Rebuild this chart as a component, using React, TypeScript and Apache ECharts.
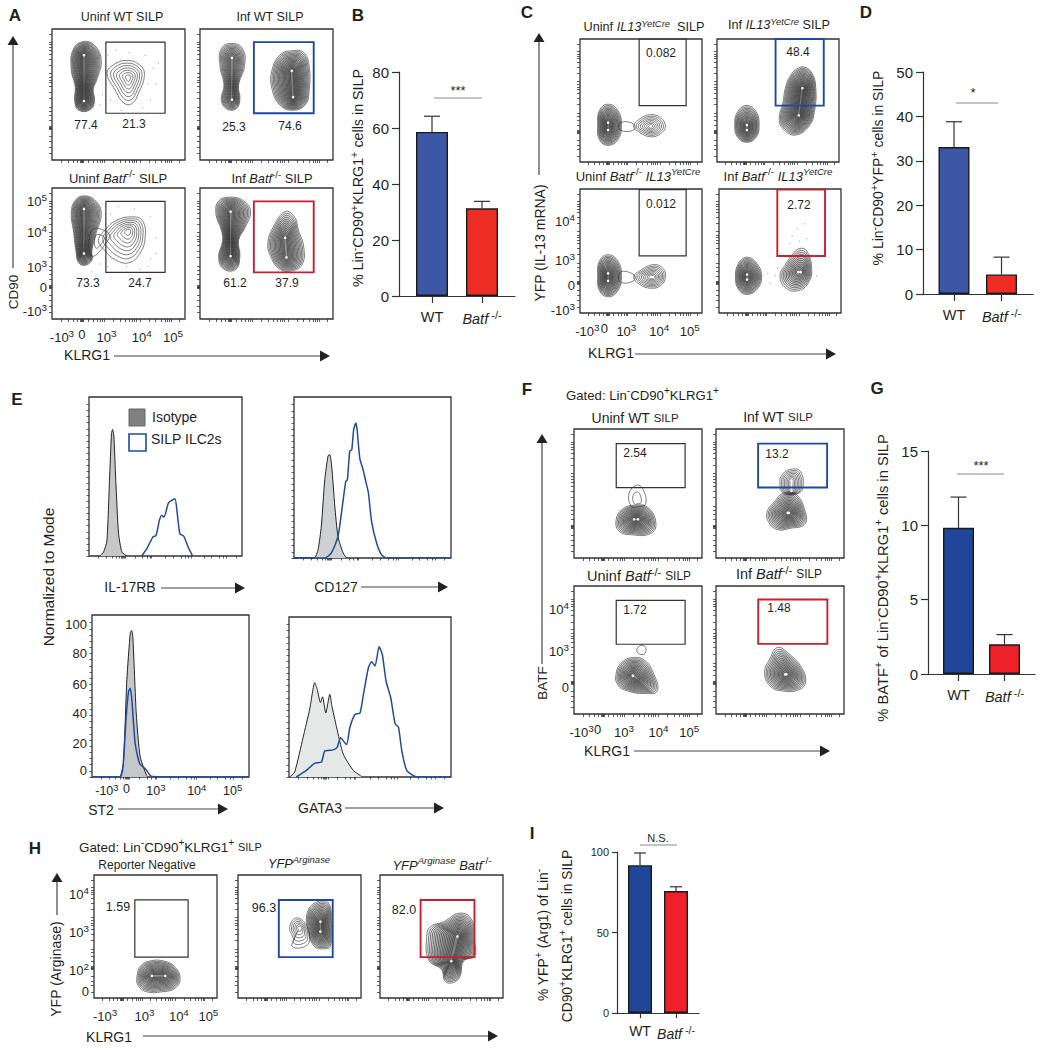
import React, { useEffect, useRef } from "react";
import * as echarts from "echarts";

const FONT = "'Liberation Sans', Arial, sans-serif";
const INK = "#1f1f1f";
const BLUE = "#1f4aa0";
const RED = "#c8202f";

// ---------- bar data ----------
const barCategories = ["WT", "{i|Batf}{s| -/-}"];
const bValues = [58.6, 31.3];
const bErrors = [64.2, 33.8];
const dValues = [33.1, 4.4];
const dErrors = [38.8, 8.3];
const gValues = [9.83, 2.0];
const gErrors = [11.9, 2.65];
const iValues = [91.8, 75.7];
const iErrors = [99.4, 78.4];

// ---------- histogram data (x: % of panel width, y: % of mode) ----------
const e1Iso = [[7,0],[9.5,2.6],[11.7,10],[13.4,50],[14.7,81],[15.4,83.5],[16.2,80],[17.5,50],[19.3,15],[21.5,2.6],[24.7,0]];
const e1Blue = [[34.5,0],[37.8,4.8],[41.7,12.5],[43.8,13.6],[46,23.5],[47.5,26.8],[49,25.7],[51.9,35],[54,36.7],[56.2,37.8],[57.7,28],[59.4,14.7],[62,13],[64.8,5.9],[67.7,0]];
const e2Iso = [[0,0],[12.8,0],[15.3,5.4],[17.4,20.7],[19.6,51],[21.7,66.7],[22.8,67.4],[24,60],[26,33.7],[28,14],[31.3,3.3],[33.4,0]];
const e2Blue = [[0,0],[19.6,0],[23.8,3.3],[28,14],[31.3,37.8],[33,50],[34,51],[35.5,69.6],[36.8,70.7],[38,83.7],[39.4,88],[40.2,83.7],[41.9,65],[44,57.6],[45.7,50],[47.4,42.4],[49.4,23.9],[52.6,9.8],[55.7,2.2],[58.9,0],[100,0]];
const e3Iso = [[18,0],[20,8.7],[22.2,63],[24.4,93.5],[25.2,95],[26,91],[28.2,41],[30.7,13],[35,0.4]];
const e3Blue = [[0,0],[18,0],[19.7,6.5],[21.9,41],[23.3,55.4],[24.4,57.6],[25.4,50],[27.5,21.7],[30.3,8.7],[33.9,5.4],[38.1,0.4],[100,0]];
const e4Iso = [[0.4,0],[3.5,3.3],[8.7,26],[12.8,44.6],[15.9,62],[17.4,57.6],[19.4,48.9],[20.7,52.6],[22.7,42],[25.2,54.3],[26.4,47],[29.3,33],[33.5,15],[39.7,4.3],[44.8,0.4]];
const e4Blue = [[4.5,0],[10.7,4.3],[15.9,9.1],[20,9.8],[22.1,17],[27.3,17.8],[29.8,19.6],[31.8,25.7],[35.5,21.3],[37.6,32.6],[40.7,41],[43.8,42],[45.9,54],[49,71.7],[51,75.6],[53.1,72.8],[55.6,85.4],[57.6,80.4],[59.9,63],[62.8,52],[65.5,35],[67.6,32.6],[69.6,17.4],[72.7,4.3],[78.9,0],[100,0]];

// ---------- axis tick labels ----------
const logNames = ["-10{s|3}", "0", "10{s|3}", "10{s|4}", "10{s|5}"];
const aXLabelAt = [7.5, 22.5, 41, 67.5, 91];
const aYLabelAt = [6, 24, 39.5, 66, 90];
const cXLabelAt = [6, 20, 38, 65, 90];
const cYLabelAt = [2, 22, 42, 74];
const cYNames = ["-10{s|3}", "0", "10{s|3}", "10{s|4}"];
const fXLabelAt = [6, 18.5, 39, 66, 90];
const fYLabelAt = [21, 49, 82];
const fYNames = ["0", "10{s|3}", "10{s|4}"];
const hXLabelAt = [9, 20.5, 41, 69, 93];
const hYLabelAt = [5, 22, 53, 84];
const hYNames = ["0", "10{s|2}", "10{s|3}", "10{s|4}"];
const e3XLabelAt = [9.5, 22, 40.7, 66.7, 89.6];
const e3YLabelAt = [4.3, 22, 41, 60, 80, 99];
const e3YNames = ["0", "20", "40", "60", "80", "100"];
const xMarks = [7, 12, 16, 19, 21.4, 22, 22.5, 23, 23.6, 27, 31, 34, 36, 37.5, 39, 46, 51, 55, 58, 60, 62, 63.5, 66, 73, 78, 82, 85, 87, 88.5, 90, 96];
const yMarks = [5, 10, 14, 18, 23.4, 24, 24.5, 25, 25.6, 30, 34, 37, 40, 47, 52, 56, 59, 61, 63, 66, 72, 77, 81, 84, 86, 88, 90, 96];

// ---------- contour outlines (% of panel) ----------
type C = { o: number[][]; s: number[]; n: number };
const a1C: C[] = [
  { o: [[24,90.5],[32.5,87],[37,76],[34,62],[31,54],[32,45.5],[29,38.5],[20,38],[17,45.5],[17.5,55.5],[14.5,69],[16,84.5]], s: [24,80,24,45], n: 16 },
  { o: [[56,76],[66,72.5],[69.5,65],[65,51],[60,43],[54,43.5],[47.5,53.5],[41.5,66],[46,72.5]], s: [57.5,63,57.5,63], n: 7 },
];
const a2C: C[] = [
  { o: [[24,89],[32,85],[33.5,72],[29,57],[30,46],[27,39],[20,39],[16,46],[18,57],[15,72],[16,85]], s: [24,78,24,46], n: 12 },
  { o: [[70,83.5],[78,82],[82,72],[82,52],[79,42],[70,38],[60,42],[54,55],[54,68],[60,80]], s: [69,68,70,48], n: 17 },
];
const a3C: C[] = [
  { o: [[24,94],[33,90],[37,80],[33,65],[30,52],[30,45],[25,41],[20,43],[18,52],[16,68],[14.5,80],[17,90]], s: [24,84,24,50], n: 15 },
  { o: [[60,78],[68,75],[70,62],[66,50],[58,43],[48,45],[40,52],[35,60],[40,68],[48,75]], s: [57.5,67,57.5,67], n: 8 },
  { o: [[30,68],[42,66],[42,60],[30,48]], s: [36,60,36,60], n: 2 },
];
const a4C: C[] = [
  { o: [[23,93],[33,90],[38,82],[34,70],[29,60],[30,48],[27,38],[18,38],[14,47],[17,60],[16,68],[12,80],[14,90]], s: [23,82,23,48], n: 15 },
  { o: [[64,82],[71,78],[74,68],[78,55],[77,42],[70,37],[60,38],[53,48],[51,58],[55,70]], s: [64,62,65,47], n: 14 },
];
const c1C: C[] = [
  { o: [[23,47],[31,42],[34,30],[31,18],[23,13.5],[16,18],[14.5,30],[16,42]], s: [23,32,23,26], n: 15 },
  { o: [[58,38.5],[66,36],[70,29],[66,23],[58,20.5],[49,24],[44,29],[49,35]], s: [58,29,58,29], n: 8 },
  { o: [[33,32],[44,31],[44,26],[33,26]], s: [38,29,38,29], n: 1 },
];
const c2C: C[] = [
  { o: [[24.5,46],[32,41],[34.5,30],[32,20],[24.5,16],[17,20],[14.5,30],[17,41]], s: [24.5,30,24.5,26], n: 15 },
  { o: [[72,77],[78,72],[81,60],[80,42],[76,30],[65,22],[55,26],[51,35],[54,48],[56,60],[60,70],[66,76]], s: [70,60,67,38], n: 18 },
];
const c3C: C[] = [
  { o: [[23,47],[31,42],[34,30],[31,18],[23,13],[16,18],[14.5,30],[16,42]], s: [23,32,23,26], n: 15 },
  { o: [[60,39],[68,36],[70,29],[66,22],[58,20],[49,23],[44,29],[49,34]], s: [58,29,60,29], n: 9 },
  { o: [[33,33],[44,31],[44,26],[33,25]], s: [38,29,38,29], n: 1 },
];
const c4C: C[] = [
  { o: [[23,45],[31,40],[35,29],[31,19],[23,15],[16,19],[13.5,29],[16,40]], s: [23,31,23,27], n: 15 },
  { o: [[66,52],[72,50],[76,35],[73,24],[65,18],[55,20],[50,30],[55,40],[60,47]], s: [65,33,67,33], n: 12 },
];
const f1C: C[] = [
  { o: [[48,41],[58,39],[64,27],[60,19],[45,18],[35,21],[33,30],[38,38]], s: [47,30,50,30], n: 15 },
  { o: [[49,56.5],[54,53],[56,42],[51,40],[45,40],[43,50]], s: [49,46,49,44], n: 2 },
];
const f2C: C[] = [
  { o: [[52,50],[62,50],[70,35],[69,26],[58,23],[48,22],[41,28],[40,36],[46,44]], s: [56,35,57,35], n: 15 },
  { o: [[60,69],[66,67],[68,55],[64,50],[53,50],[50,57],[52,65]], s: [59,60,59,52], n: 8 },
];
const f3C: C[] = [
  { o: [[45,44],[55,42],[62,32],[65,18],[55,16],[42,18],[34,23],[33,32],[37,40]], s: [46,30,49,28], n: 15 },
  { o: [[52,53.5],[56,52],[55,47],[51,47],[49,50]], s: [52.5,50,52.5,50], n: 1 },
];
const f4C: C[] = [
  { o: [[48,52],[57,47],[67,36],[70,25],[65,19],[52,18],[42,22],[38,33],[42,43]], s: [54,31,55,31], n: 15 },
];
const h1C: C[] = [
  { o: [[45,30],[57,30],[66,25],[70,16],[66,8],[55,5],[43,5],[36,10],[35,18],[38,26]], s: [47,18,58,18], n: 14 },
];
const h2C: C[] = [
  { o: [[62,77],[73,78],[76,60],[75,42],[70,40],[62,42],[57,55],[56,68]], s: [67,62,67,54], n: 15 },
  { o: [[47,65],[55,60],[58,46],[52,41],[44,42],[45,48],[42,57]], s: [50,57,50,57], n: 6 },
];
const h3C: C[] = [
  { o: [[65,69],[74.6,63.5],[76.8,47],[76.8,34],[68,30],[65,17.5],[60,12.7],[53,13.5],[50,23],[39.5,31],[38,50],[41,58],[51.6,62]], s: [63,50,58,30], n: 17 },
];

// a few faint events
const a1Specks = [[42,80],[48,84],[58,82],[70,80],[76,70],[78,58],[74,46],[68,40],[44,46],[38,50],[36,42],[40,38],[80,74],[52,38],[72,58]];
const a3Specks = [[40,84],[50,86],[62,84],[74,78],[78,62],[74,46],[66,38],[56,40],[42,40],[36,42],[30,36],[78,50],[72,40],[44,80]];
const c4Specks = [[60,62],[64,68],[70,72],[66,58],[72,60],[58,56],[42,24],[46,30],[48,36],[40,32],[78,46],[80,30]];

// ---------- layout (pixel boxes) ----------
const rich = (fs: number) => {
  const base = { fontFamily: FONT, color: INK, fill: INK };
  return {
    n: { ...base, fontSize: fs },
    i: { ...base, fontSize: fs, fontStyle: "italic" },
    m: { ...base, fontSize: fs * 0.82 },
    s: { ...base, fontSize: fs * 0.76, padding: [0, 0, fs * 0.62, 0] },
    si: { ...base, fontSize: fs * 0.74, fontStyle: "italic", padding: [0, 0, fs * 0.62, 0] },
  };
};

const txt = (x: number, y: number, text: string, o: any = {}) => {
  const fs = o.fs ?? 12;
  return {
    type: "text", x, y, rotation: o.rot ?? 0, silent: true, z: 50,
    style: {
      text, fontSize: fs, fontFamily: FONT, fontWeight: o.bold ? "bold" : "normal", fill: INK,
      align: o.align ?? "center", verticalAlign: "middle",
      textAlign: o.align ?? "center", textVerticalAlign: "middle", rich: rich(fs),
    },
  };
};
const arrowH = (x0: number, x1: number, y: number) => [
  { type: "line", silent: true, shape: { x1: x0, y1: y, x2: x1 - 9, y2: y }, style: { stroke: "#444", lineWidth: 1.2 } },
  { type: "polygon", silent: true, shape: { points: [[x1 - 10, y - 5.5], [x1, y], [x1 - 10, y + 5.5]] }, style: { fill: "#222" } },
];
const arrowV = (x: number, y0: number, y1: number) => [
  { type: "line", silent: true, shape: { x1: x, y1: y0, x2: x, y2: y1 + 9 }, style: { stroke: "#444", lineWidth: 1.2 } },
  { type: "polygon", silent: true, shape: { points: [[x - 5.5, y1 + 9], [x, y1], [x + 5.5, y1 + 9]] }, style: { fill: "#222" } },
];
const sigLine = (x0: number, x1: number, y: number) => ({
  type: "line", silent: true, shape: { x1: x0, y1: y, x2: x1, y2: y }, style: { stroke: "#8a8a8a", lineWidth: 1.2 },
});

const grids: any[] = [];
const xAxes: any[] = [];
const yAxes: any[] = [];
const series: any[] = [];

const addGrid = (b: number[], show: boolean) => {
  grids.push({
    left: b[0], top: b[1], width: b[2] - b[0], height: b[3] - b[1],
    show, borderColor: "#333", borderWidth: 1.3, backgroundColor: "transparent", outerBoundsMode: "none",
  });
  return grids.length - 1;
};

const axisLabelFor = (at: number[] | null, names: string[], fs: number, margin: number) =>
  at
    ? {
        show: true, margin, fontSize: fs, fontFamily: FONT, color: INK, customValues: at, showMinLabel: true, showMaxLabel: true,
        formatter: (v: number) => names[at.indexOf(v)] ?? "", rich: rich(fs), hideOverlap: false,
      }
    : { show: false };

const addAxes = (g: number, xAt: any, xNames: string[], yAt: any, yNames: string[], xT: number[], yT: number[], yMax: number, len: number, xFs: number, xMargin: number) => {
  xAxes.push({
    gridIndex: g, type: "value", min: 0, max: 100, splitLine: { show: false }, axisLine: { show: false },
    axisTick: { show: true, customValues: xT, length: len, lineStyle: { color: "#333", width: 0.8 } },
    axisLabel: axisLabelFor(xAt, xNames, xFs, xMargin),
  });
  yAxes.push({
    gridIndex: g, type: "value", min: 0, max: yMax, splitLine: { show: false }, axisLine: { show: false },
    axisTick: { show: true, customValues: yT, length: len, lineStyle: { color: "#333", width: 0.8 } },
    axisLabel: axisLabelFor(yAt, yNames, 13, 5),
  });
};

const nearest = (p: number[], s: number[]) => {
  const dx = s[2] - s[0], dy = s[3] - s[1];
  const l = dx * dx + dy * dy;
  const t = l === 0 ? 0 : Math.max(0, Math.min(1, ((p[0] - s[0]) * dx + (p[1] - s[1]) * dy) / l));
  return [s[0] + t * dx, s[1] + t * dy];
};

const flow = (b: number[], gate: number[], gateColor: string, cs: C[], specks: number[][], xAt: any, yAt: any, yNames: string[]) => {
  const g = addGrid(b, true);
  addAxes(g, xAt, logNames, yAt, yNames, xMarks, yMarks, 100, 3, 13, 9);
  if (specks.length) {
    series.push({ type: "scatter", xAxisIndex: g, yAxisIndex: g, symbolSize: 1.2, silent: true, itemStyle: { color: "#999" }, data: specks });
  }
  series.push({
    type: "custom", xAxisIndex: g, yAxisIndex: g, silent: true, clip: false,
    data: cs.map((c) => [c.s[0], c.s[1]]),
    encode: { x: 0, y: 1 },
    renderItem: (p: any, api: any) => {
      const c = cs[p.dataIndex];
      const children: any[] = [];
      for (let i = 0; i < c.n; i++) {
        const t = 0.985 * Math.pow(i / c.n, 0.95);
        const pts = c.o.map((q) => {
          const m = nearest(q, c.s);
          return api.coord([q[0] + (m[0] - q[0]) * t, q[1] + (m[1] - q[1]) * t]);
        });
        children.push({
          type: "polygon", shape: { points: pts, smooth: 0.45 },
          style: { fill: c.n > 9 ? "rgba(30,30,30,0.045)" : "none", stroke: "#2a2a2a", lineWidth: 0.65, opacity: 0.92 },
        });
      }
      if (c.n > 4) {
        const a = api.coord([c.s[0], c.s[1]]);
        const e = api.coord([c.s[2], c.s[3]]);
        children.push({ type: "circle", shape: { cx: a[0], cy: a[1], r: 1.3 }, style: { fill: "#fff" } });
        if (c.s[0] !== c.s[2] || c.s[1] !== c.s[3]) {
          children.push({ type: "circle", shape: { cx: e[0], cy: e[1], r: 1.3 }, style: { fill: "#fff" } });
        }
      }
      return { type: "group", children };
    },
  });
  series.push({
    type: "custom", xAxisIndex: g, yAxisIndex: g, silent: true, clip: false,
    data: [gate], encode: { x: [0, 2], y: [1, 3] },
    renderItem: (_: any, api: any) => {
      const a = api.coord([api.value(0), api.value(1)]);
      const c = api.coord([api.value(2), api.value(3)]);
      return {
        type: "rect", shape: { x: a[0], y: c[1], width: c[0] - a[0], height: a[1] - c[1] },
        style: { fill: "none", stroke: gateColor, lineWidth: gateColor === "#333" ? 1.2 : 1.9 },
      };
    },
  });
};

const hist = (b: number[], iso: number[][], blue: number[][], isoFill: string, labelled: boolean) => {
  const g = addGrid(b, true);
  const yT = [0, 4, 8, 12, 16, 20, 24, 28, 32, 36, 40, 44, 48, 52, 56, 60, 64, 68, 72, 76, 80, 84, 88, 92, 96, 100];
  const xT = [6, 11, 15, 18, 20, 21, 22, 22.5, 23, 24, 30, 35, 38, 40, 41, 50, 55, 60, 63, 65, 66.7, 75, 80, 85, 88, 90, 96];
  addAxes(g, labelled ? e3XLabelAt : null, logNames, labelled ? e3YLabelAt : null, e3YNames, xT, yT, 105, 2.5, 12.5, 5);
  series.push({
    type: "line", xAxisIndex: g, yAxisIndex: g, data: iso, showSymbol: false, smooth: 0.2, silent: true,
    lineStyle: { color: "#222", width: 1 }, areaStyle: { color: isoFill, opacity: 1 }, itemStyle: { color: "#222" },
  });
  series.push({
    type: "line", xAxisIndex: g, yAxisIndex: g, data: blue, showSymbol: false, smooth: 0.2, silent: true,
    lineStyle: { color: BLUE, width: 1.5 }, itemStyle: { color: BLUE },
  });
};

const bars = (L: number, R: number, top: number, bottom: number, c1: number, c2: number, barW: number, vals: number[], errs: number[], yMax: number, step: number, colors: string[], fs: number, catFs: number, capW: number, tickLen: number) => {
  const g = addGrid([L, top, R, bottom], false);
  const unit = c2 - c1;
  xAxes.push({
    gridIndex: g, type: "value", min: 1 - (c1 - L) / unit, max: 2 + (R - c2) / unit, splitLine: { show: false },
    axisLine: { show: true, onZero: false, lineStyle: { color: "#333", width: 1.2 } },
    axisTick: { show: true, customValues: [1, 2], length: tickLen, lineStyle: { color: "#333", width: 1.2 } },
    axisLabel: {
      show: true, customValues: [1, 2], margin: tickLen + 6, fontFamily: FONT, fontSize: catFs, color: INK, rich: rich(catFs),
      formatter: (v: number) => barCategories[v - 1],
    },
  });
  yAxes.push({
    gridIndex: g, type: "value", min: 0, max: yMax, interval: step, splitLine: { show: false },
    axisLine: { show: true, lineStyle: { color: "#333", width: 1.2 } },
    axisTick: { show: true, length: tickLen, lineStyle: { color: "#333", width: 1.2 } },
    axisLabel: { show: true, margin: tickLen + 3, fontFamily: FONT, fontSize: fs, color: INK },
  });
  series.push({
    type: "custom", xAxisIndex: g, yAxisIndex: g, silent: true,  clip: false, z: 1,
    data: vals.map((v, i) => [i + 1, v, errs[i]]), encode: { x: 0, y: [1, 2] },
    renderItem: (_: any, api: any) => {
      const a = api.coord([api.value(0), api.value(1)]);
      const b2 = api.coord([api.value(0), api.value(2)]);
      const st = { stroke: "#333", lineWidth: 1.2 };
      return {
        type: "group",
        children: [
          { type: "line", shape: { x1: a[0], y1: a[1], x2: b2[0], y2: b2[1] }, style: st },
          { type: "line", shape: { x1: b2[0] - capW / 2, y1: b2[1], x2: b2[0] + capW / 2, y2: b2[1] }, style: st },
        ],
      };
    },
  });
  series.push({
    type: "bar", xAxisIndex: g, yAxisIndex: g, barWidth: barW, silent: true, z: 2,
    data: vals.map((v, i) => ({ value: [i + 1, v], itemStyle: { color: colors[i], borderColor: "#1a1a1a", borderWidth: 1.4 } })),
  });
};

// ---------- panels ----------
const B_A = "#3b57a5", B_G = "#1f4699", R_A = "#ee2e24", R_G = "#ee2029";

flow([52, 29, 185, 160], [40.5, 35.7, 85, 90], "#333", a1C, a1Specks, null, null, []);
flow([200, 29, 333, 160], [40.5, 35.7, 85.5, 90], BLUE, a2C, [], null, null, []);
flow([52, 188, 185, 319], [40.5, 35.6, 85, 89.8], "#333", a3C, a3Specks, aXLabelAt, aYLabelAt, logNames);
flow([200, 188, 333, 319], [40.5, 35.6, 85.5, 89.8], RED, a4C, [], null, null, []);

flow([580, 39, 702, 162], [48.5, 45.8, 87, 100], "#333", c1C, [], null, null, []);
flow([717, 39, 839, 162], [48, 45.8, 87.5, 100], BLUE, c2C, [], null, null, []);
flow([580, 189, 702, 313], [48.5, 46, 87, 99.5], "#333", c3C, [], cXLabelAt, cYLabelAt, cYNames);
flow([719, 189, 841, 313], [47.8, 46, 86.9, 99.5], RED, c4C, c4Specks, null, null, []);

flow([574, 429, 702, 558], [33, 54.6, 86.8, 88.7], "#333", f1C, [], null, null, []);
flow([716, 429, 844, 558], [32.9, 54.6, 86.8, 88.7], BLUE, f2C, [], null, null, []);
flow([574, 586, 702, 714], [33, 54.5, 86.8, 88.8], "#333", f3C, [], fXLabelAt, fYLabelAt, fYNames);
flow([716, 586, 844, 714], [33, 54.8, 87, 89.4], RED, f4C, [], null, null, []);

flow([94, 875, 217, 998], [33.2, 33.2, 76.5, 79.7], "#333", h1C, [], hXLabelAt, hYLabelAt, hYNames);
flow([238, 875, 361, 998], [33.2, 33.2, 77, 79.7], BLUE, h2C, [], null, null, []);
flow([380, 875, 503, 998], [33, 33.2, 76.8, 79.7], RED, h3C, [], null, null, []);

hist([89, 397, 242, 556], e1Iso, e1Blue, "#c6c7c8", false);
hist([294, 397, 451, 558], e2Iso, e2Blue, "#cfd0d1", false);
hist([92, 615, 249, 777], e3Iso, e3Blue, "#c6c7c8", true);
hist([289, 617, 451, 777], e4Iso, e4Blue, "#e6e7e7", false);

bars(399, 515, 72, 296, 432, 482, 32, bValues, bErrors, 80, 20, [B_A, R_A], 15, 14.5, 16, 7);
bars(923, 1033, 72, 294, 954, 1001.5, 31, dValues, dErrors, 50, 10, [B_A, R_A], 15, 14.5, 16, 7);
bars(928, 1035, 451, 674, 958.5, 1004.5, 31, gValues, gErrors, 15, 5, [B_G, R_G], 15, 14.5, 16, 7);
bars(617, 699, 852, 1013, 640, 676, 24, iValues, iErrors, 100, 50, [B_G, R_G], 11, 14, 12, 5);

const elements: any[] = [
  // panel letters
  txt(15, 15, "A", { fs: 17, bold: true }), txt(358, 15, "B", { fs: 17, bold: true }),
  txt(527, 12, "C", { fs: 17, bold: true }), txt(866, 12, "D", { fs: 17, bold: true }),
  txt(17, 399, "E", { fs: 17, bold: true }), txt(527, 389, "F", { fs: 17, bold: true }),
  txt(877, 388, "G", { fs: 17, bold: true }), txt(35, 848, "H", { fs: 17, bold: true }),
  txt(532, 833, "I", { fs: 17, bold: true }),

  // A
  txt(122, 17, "Uninf WT SILP", { fs: 12.5 }), txt(270, 17, "Inf WT SILP", { fs: 12.5 }),
  txt(118, 178, "Uninf {i|Batf}{s|-/-} SILP", { fs: 13 }), txt(272, 178, "Inf {i|Batf}{s|-/-} SILP", { fs: 12.8 }),
  txt(86, 125, "77.4"), txt(134, 124, "21.3"), txt(234, 127, "25.3"), txt(290, 126, "74.6"),
  txt(88, 283, "73.3"), txt(140, 283, "24.7"), txt(235, 283, "61.2"), txt(287, 283, "37.9"),
  txt(13, 292, "CD90", { fs: 13.5, rot: Math.PI / 2 }), ...arrowV(13, 268, 36),
  txt(87, 355, "KLRG1", { fs: 14 }), ...arrowH(114, 330, 356),

  // B
  txt(358, 178, "% Lin{s|-}CD90{s|+}KLRG1{s|+} cells in SILP", { fs: 14.3, rot: Math.PI / 2 }),
  sigLine(434, 482, 98), txt(458, 90, "***", { fs: 13 }),

  // C
  txt(644, 27, "Uninf {i|IL13}{si|YetCre}  SILP", { fs: 12.7 }), txt(779, 25, "Inf {i|IL13}{si|YetCre} SILP", { fs: 12.7 }),
  txt(638, 176, "Uninf {i|Batf}{s|-/-} {i|IL13}{si|YetCre}", { fs: 13 }), txt(778, 176, "Inf {i|Batf}{s|-/-} {i|IL13}{si|YetCre}", { fs: 13 }),
  txt(661, 53, "0.082"), txt(798, 52, "48.4"), txt(661, 204, "0.012"), txt(799, 205, "2.72"),
  txt(540, 243, "YFP (IL-13 mRNA)", { fs: 14, rot: Math.PI / 2 }), ...arrowV(539, 175, 33),
  txt(611, 353, "KLRG1", { fs: 14 }), ...arrowH(635, 836, 354),

  // D
  txt(878, 168, "% Lin{s|-}CD90{s|+}YFP{s|+} cells in SILP", { fs: 14, rot: Math.PI / 2 }),
  sigLine(956, 998, 103), txt(973, 92, "*", { fs: 13 }),

  // E
  { type: "rect", silent: true, shape: { x: 129, y: 409, width: 16, height: 17 }, style: { fill: "#808080", stroke: "#666", lineWidth: 1 } },
  { type: "rect", silent: true, shape: { x: 129, y: 434, width: 17, height: 17 }, style: { fill: "#fff", stroke: BLUE, lineWidth: 1.6 } },
  txt(152, 417, "Isotype", { fs: 14, align: "left" }), txt(151, 439, "SILP ILC2s", { fs: 14, align: "left" }),
  txt(48, 577, "Normalized to Mode", { fs: 15.5, rot: Math.PI / 2 }),
  txt(130, 587, "IL-17RB", { fs: 14 }), ...arrowH(161, 245, 588),
  txt(336, 587, "CD127", { fs: 14 }), ...arrowH(361, 448, 587),
  txt(101, 810, "ST2", { fs: 14 }), ...arrowH(118, 228, 809),
  txt(320, 808, "GATA3", { fs: 14 }), ...arrowH(345, 444, 808),

  // F
  txt(566, 395, "Gated: Lin{s|-}CD90{s|+}KLRG1{s|+}", { fs: 13.2, align: "left" }),
  txt(635, 418, "Uninf WT {m|SILP}", { fs: 14 }), txt(778, 417, "Inf WT {m|SILP}", { fs: 14 }),
  txt(639, 576, "Uninf {i|Batf}{s|-/-} {m|SILP}", { fs: 14.5 }), txt(779, 574, "Inf {i|Batf}{s|-/-} {m|SILP}", { fs: 14.5 }),
  txt(635, 453, "2.54"), txt(777, 454, "13.2"), txt(635, 610, "1.72"), txt(779, 608, "1.48"),
  txt(542, 683, "BATF", { fs: 13.5, rot: Math.PI / 2 }), ...arrowV(542, 664, 434),
  txt(607, 751, "KLRG1", { fs: 14 }), ...arrowH(634, 830, 751),

  // G
  txt(883, 578, "% BATF{s|+} of Lin{s|-}CD90{s|+}KLRG1{s|+} cells in SILP", { fs: 14.7, rot: Math.PI / 2 }),
  sigLine(957, 1004, 474), txt(981, 465, "***", { fs: 13 }),

  // H
  txt(79, 847, "Gated: Lin{s|-}CD90{s|+}KLRG1{s|+} {m|SILP}", { fs: 13.4, align: "left" }),
  txt(147, 865, "Reporter Negative", { fs: 12 }), txt(299, 863, "{i|YFP}{si|Arginase}", { fs: 12.8 }),
  txt(442, 865, "{i|YFP}{si|Arginase} {i|Batf}{s|-/-}", { fs: 13 }),
  txt(118, 907, "1.59", { fs: 12.5 }), txt(264, 908, "96.3", { fs: 12.5 }), txt(404, 910, "82.0", { fs: 12.5 }),
  txt(56, 969, "YFP (Arginase)", { fs: 14, rot: Math.PI / 2 }), ...arrowV(57, 915, 873),
  txt(109, 1037, "KLRG1", { fs: 14 }), ...arrowH(143, 498, 1036),

  // I
  txt(543, 935, "% YFP{s|+} (Arg1) of Lin{s|-}", { fs: 13.8, rot: Math.PI / 2 }),
  txt(567, 936, "CD90{s|+}KLRG1{s|+} cells in SILP", { fs: 13.8, rot: Math.PI / 2 }),
  sigLine(640, 677, 845), txt(658, 838, "N.S.", { fs: 11 }),
];

export default function App() {
  const ref = useRef<HTMLDivElement>(null);
  useEffect(() => {
    const chart = echarts.init(ref.current!, undefined, { renderer: "svg", width: 1046, height: 1050 });
    chart.setOption({
      animation: false,
      backgroundColor: "#fff",
      textStyle: { fontFamily: FONT },
      grid: grids,
      xAxis: xAxes,
      yAxis: yAxes,
      series,
      graphic: { elements },
    });
    return () => chart.dispose();
  }, []);
  return <div ref={ref} style={{ position: "absolute", left: 0, top: 0, width: 1046, height: 1050 }} />;
}
